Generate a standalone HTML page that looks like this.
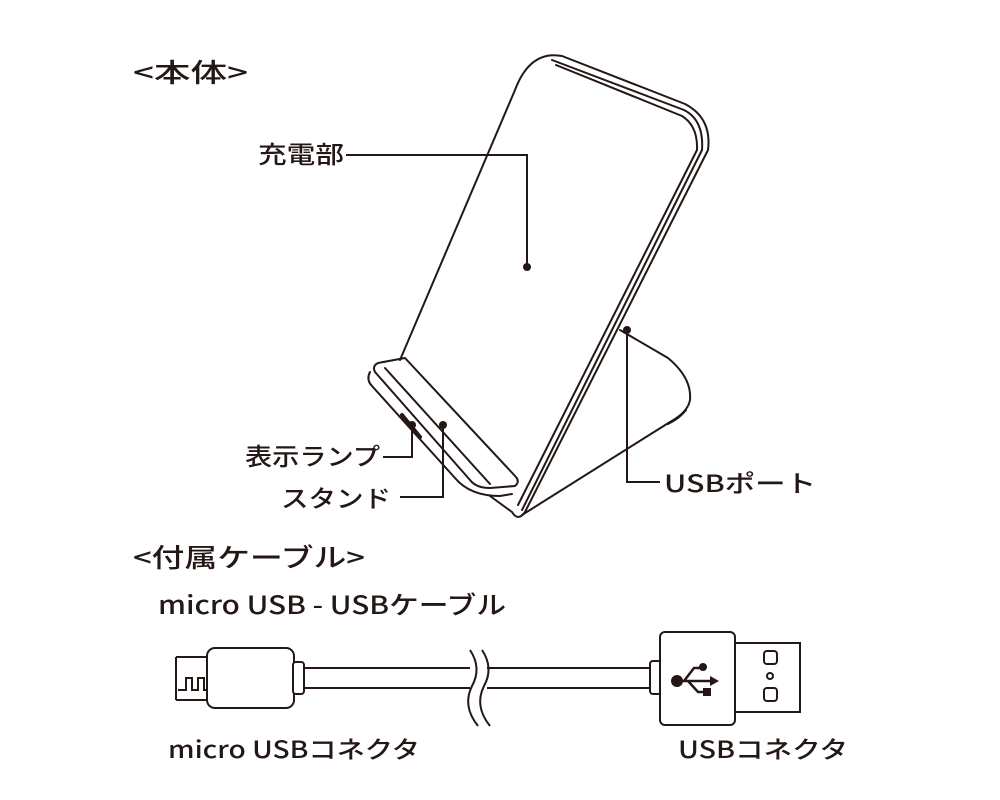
<!DOCTYPE html>
<html><head><meta charset="utf-8"><style>
html,body{margin:0;padding:0;background:#fff;width:1000px;height:800px;overflow:hidden}
svg text{font-family:"Noto Sans CJK JP",sans-serif;font-weight:500;fill:#231815}
</style></head><body>
<svg width="1000" height="800" viewBox="0 0 1000 800" xmlns="http://www.w3.org/2000/svg">
<g fill="none" stroke="#231815" stroke-width="2" stroke-linejoin="round" stroke-linecap="round">
<path d="M620 330 L668 358 Q692 378 690 400 Q688 412 670 422 L522 515"/>
<path d="M686 410 Q680 418 668 424"/>
<path d="M400 360 L515 90 Q530 50 562 56 L685 104 Q712 118 708 150 L525 512 Q518 522 512 512"/>
<path d="M552 60 L684 110 Q704 120 702 150 L522 510"/>
<path d="M556 65 L682 116 Q698 126 697 150 L518 505"/>
<path d="M378 363 Q372 366 375 372 L470 480 Q476 488 490 488 L515 486 Q520 482 516 477 L405 358 Z"/>
<path d="M370 372 Q366 380 372 386 L455 478 Q470 496 500 496 L512 494"/>
<path d="M385 368 L490 484"/>
<path d="M490 496 L512 512"/>
<path d="M402 415 L420 437" stroke-width="4"/>
</g>
<g fill="none" stroke="#231815" stroke-width="2">
<path d="M346 155 H527 V267"/>
<path d="M383 457 H412 V425"/>
<path d="M400 497 H443 V425"/>
<path d="M627 330 V482 H660"/>
</g>
<g fill="#231815">
<circle cx="527" cy="267" r="4"/><circle cx="412" cy="425" r="4"/>
<circle cx="443" cy="425" r="4"/><circle cx="627" cy="330" r="4"/>
</g>
<g fill="none" stroke="#231815" stroke-width="2">
<path d="M176 657 H208 M176 700 H208 M176 657 V700"/>
<path d="M178 690 H186 V678 H192 V690 H198 V678 H204 V690 H208"/>
<rect x="207" y="648" width="87" height="60" rx="8" fill="#fff"/>
<rect x="293" y="662" width="11" height="32" rx="3" fill="#fff"/>
<path d="M304 668 H470 M304 688 H470 M487 668 H650 M487 688 H650"/>
<path d="M470 650 Q482 668 472 686 Q462 706 478 726"/>
<path d="M482 650 Q494 668 484 686 Q474 706 490 726"/>
<rect x="650" y="661" width="11" height="33" rx="3" fill="#fff"/>
<rect x="660" y="632" width="75" height="93" rx="5" fill="#fff"/>
<path d="M735 643 H800 V712 H735"/>
<rect x="764" y="651" width="13" height="13" rx="3"/>
<rect x="764" y="688" width="13" height="13" rx="3"/>
<circle cx="770" cy="676" r="3"/>
<path d="M676 681 H710 M684 681 L694 668 H702 M688 681 L698 692 H704" stroke-width="2.5"/>
</g>
<g fill="#231815">
<circle cx="677" cy="681" r="6"/><circle cx="703" cy="667" r="4"/>
<rect x="703" y="688" width="8" height="8"/><path d="M710 676 L719 681 L710 686Z"/>
</g>
<text x="133" y="82" font-size="26" textLength="115" lengthAdjust="spacingAndGlyphs">&lt;本体&gt;</text>
<text x="258" y="163" font-size="24" textLength="86" lengthAdjust="spacingAndGlyphs">充電部</text>
<text x="245" y="465" font-size="24" textLength="135" lengthAdjust="spacingAndGlyphs">表示ランプ</text>
<text x="281" y="507" font-size="24" textLength="110" lengthAdjust="spacingAndGlyphs">スタンド</text>
<text x="664" y="492" font-size="24" textLength="152" lengthAdjust="spacingAndGlyphs">USBポート</text>
<text x="133" y="567" font-size="26" textLength="232" lengthAdjust="spacingAndGlyphs">&lt;付属ケーブル&gt;</text>
<text x="158" y="614" font-size="25" textLength="348" lengthAdjust="spacingAndGlyphs">micro USB - USBケーブル</text>
<text x="168" y="758" font-size="24" textLength="252" lengthAdjust="spacingAndGlyphs">micro USBコネクタ</text>
<text x="678" y="758" font-size="24" textLength="170" lengthAdjust="spacingAndGlyphs">USBコネクタ</text>
</svg>
</body></html>
